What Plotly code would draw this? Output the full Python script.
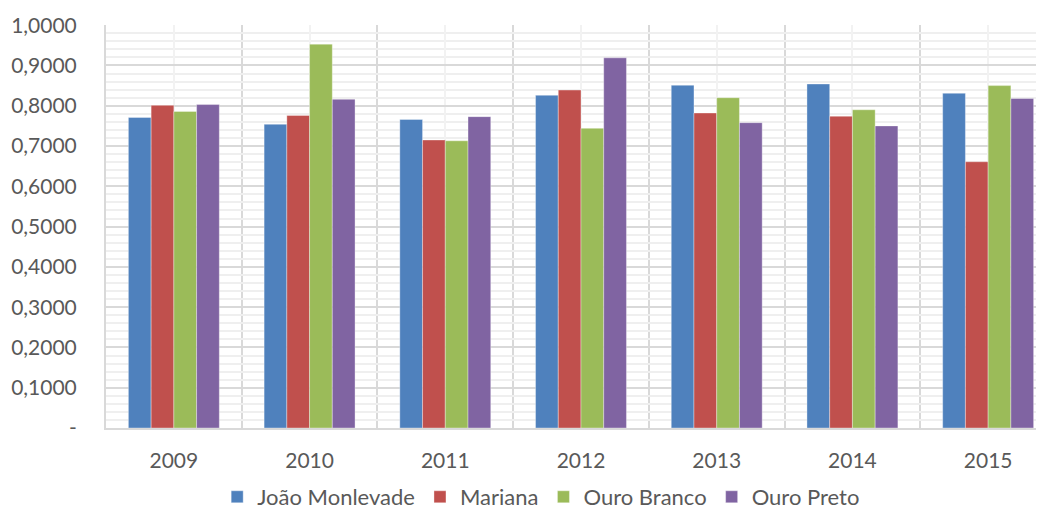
import plotly.graph_objects as go
import numpy as np

years = ["2009", "2010", "2011", "2012", "2013", "2014", "2015"]
joao_monlevade = [0.771, 0.754, 0.766, 0.826, 0.851, 0.854, 0.831]
mariana = [0.801, 0.776, 0.715, 0.839, 0.782, 0.774, 0.661]
ouro_branco = [0.786, 0.953, 0.713, 0.744, 0.820, 0.790, 0.850]
ouro_preto = [0.803, 0.816, 0.773, 0.919, 0.758, 0.750, 0.818]

series_names = ["João Monlevade", "Mariana", "Ouro Branco", "Ouro Preto"]
series_values = [joao_monlevade, mariana, ouro_branco, ouro_preto]
colors = ["#4F81BD", "#C0504D", "#9BBB59", "#8064A2"]

y_tickvals = [0, 0.1, 0.2, 0.3, 0.4, 0.5, 0.6, 0.7, 0.8, 0.9, 1.0]
y_ticktext = ["-", "0,1000", "0,2000", "0,3000", "0,4000", "0,5000",
              "0,6000", "0,7000", "0,8000", "0,9000", "1,0000"]

x_pos = np.arange(len(years))

fig = go.Figure()
for name, vals, col in zip(series_names, series_values, colors):
    fig.add_trace(go.Bar(
        x=x_pos, y=vals, name=name,
        marker=dict(color=col, line=dict(color="rgba(255,255,255,0.35)", width=1)),
    ))

font_family = "Lato, 'Open Sans', sans-serif"
fig.update_layout(
    width=1060, height=510,
    margin=dict(l=98, r=12, t=17, b=90, autoexpand=False),
    paper_bgcolor="white", plot_bgcolor="white",
    barmode="group", bargap=0.33, bargroupgap=0,
    font=dict(family=font_family, size=21, color="#595959"),
    showlegend=True,
    legend=dict(orientation="h", x=0.503, xanchor="center", xref="container",
                y=0.0, yanchor="bottom", yref="container",
                font=dict(size=22, color="#595959"), itemwidth=30,
                traceorder="normal"),
    xaxis=dict(
        range=[-0.5, 6.5], automargin=False,
        tickmode="array", tickvals=x_pos, ticktext=years,
        showgrid=True, gridcolor="#f2f2f2", gridwidth=2,
        zeroline=False, showline=True, linecolor="#d9d9d9", linewidth=2,
        ticks="", ticklabelstandoff=13,
        minor=dict(tick0=-0.5, dtick=1, showgrid=True, gridcolor="#d9d9d9", gridwidth=2, ticks=""),
        tickfont=dict(size=21, color="#595959"),
    ),
    yaxis=dict(
        range=[0, 1.0005], automargin=False,
        tickmode="array", tickvals=y_tickvals, ticktext=y_ticktext,
        showgrid=True, gridcolor="#d9d9d9", gridwidth=2,
        zeroline=False, showline=True, linecolor="#d9d9d9", linewidth=2,
        ticks="", ticklabelstandoff=23,
        minor=dict(dtick=0.02, tick0=0, showgrid=True, gridcolor="#efefef", gridwidth=2, ticks=""),
        tickfont=dict(size=21, color="#595959"),
    ),
)

fig.write_html("out.html")
